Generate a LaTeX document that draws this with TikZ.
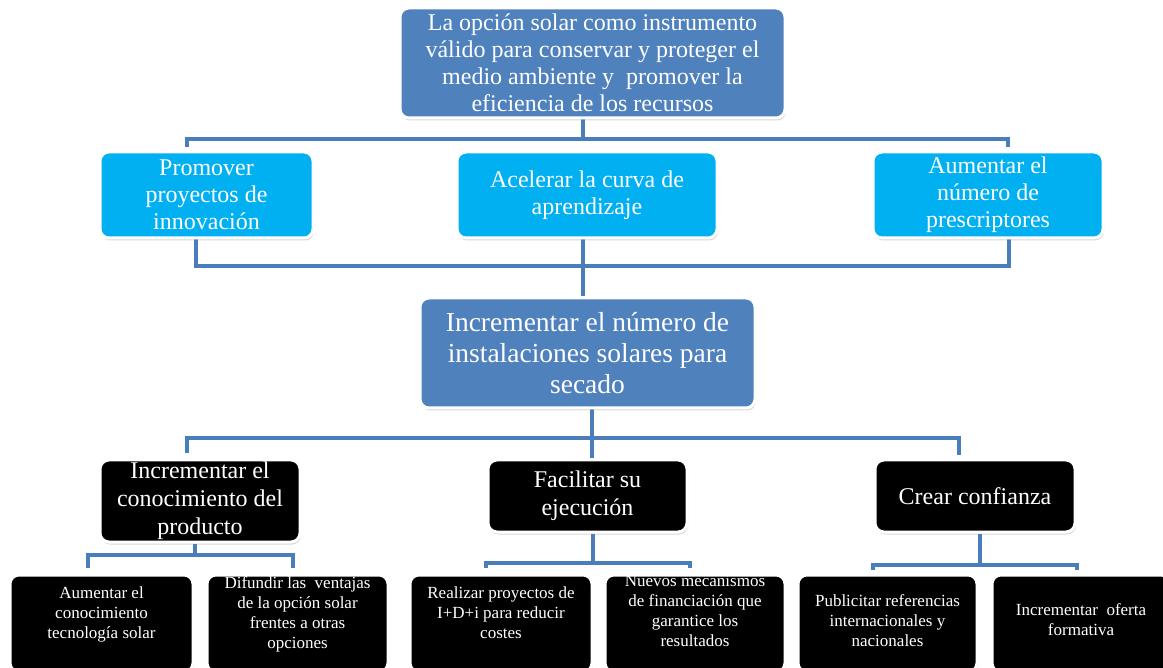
\documentclass[tikz,border=0pt]{standalone}
\usepackage{fontspec}
\setmainfont{Liberation Serif}
\usetikzlibrary{shadows}
\definecolor{steel}{HTML}{4F81BD}
\definecolor{cyanbox}{HTML}{00B0F0}
\definecolor{connblue}{HTML}{4A7EBB}
\pgfdeclarelayer{bg}
\pgfsetlayers{bg,main}
\newcommand\leaftext[2]{\raisebox{#1}[0pt][0pt]{\begin{tabular}{@{}c@{}}#2\end{tabular}}}
\begin{document}
\begin{tikzpicture}[x=1pt,y=-1pt,
  box/.style={rounded corners=9pt, draw=white, line width=3pt, text=white,
    align=center, inner sep=0pt,
    drop shadow={shadow xshift=1pt,shadow yshift=-2.5pt,opacity=0.3}},
  bluebox/.style={box, fill=steel, font=\fontsize{24}{27}\selectfont},
  midbox/.style={box, fill=steel, font=\fontsize{27.5}{31}\selectfont},
  cyanbx/.style={box, fill=cyanbox, font=\fontsize{24}{27}\selectfont, minimum height=86pt},
  blackbox/.style={box, fill=black, font=\fontsize{24}{28}\selectfont},
  leaf/.style={box, fill=black, font=\fontsize{17}{20}\selectfont, minimum height=97pt},
  conn/.style={draw=connblue, line width=4pt}]
\useasboundingbox (0,0) rectangle (1163,668);
\begin{pgfonlayer}{bg}
\fill[white] (0,0) rectangle (1163,668);
\end{pgfonlayer}

% nodes
\node[bluebox, minimum width=385pt, minimum height=110pt] (top) at (592.5,63)
  {La opción solar como instrumento\\válido para conservar y proteger el\\medio ambiente y~ promover la\\eficiencia de los recursos};

\node[cyanbx, minimum width=213pt] (c1) at (206.5,195) {Promover\\proyectos de\\innovación};
\node[cyanbx, minimum width=260pt] (c2) at (587,195) {Acelerar la curva de\\aprendizaje};
\node[cyanbx, minimum width=230pt] (c3) at (988,195) {Aumentar el\\número de\\prescriptores};

\node[midbox, minimum width=335pt, minimum height=110pt] (mid) at (587.5,353)
  {Incrementar el número de\\instalaciones solares para\\secado};

\node[blackbox, minimum width=200pt, minimum height=82pt] (b1) at (200,501) {Incrementar el\\conocimiento del\\producto};
\node[blackbox, minimum width=199pt, minimum height=72pt] (b2) at (587.5,496) {Facilitar su\\ejecución};
\node[blackbox, minimum width=200pt, minimum height=72pt] (b3) at (975,496) {Crear confianza};

\node[leaf, minimum width=183pt] (l1) at (101.5,623.5) {\leaftext{5pt}{Aumentar el\\conocimiento\\tecnología solar}};
\node[leaf, minimum width=181pt] (l2) at (297.5,623.5) {\leaftext{4.5pt}{Difundir las~ ventajas\\de la opción solar\\frentes a otras\\opciones}};
\node[leaf, minimum width=182pt] (l3) at (501,623.5) {\leaftext{5pt}{Realizar proyectos de\\I+D+i para reducir\\costes}};
\node[leaf, minimum width=180pt] (l4) at (695,623.5) {\leaftext{6.5pt}{Nuevos mecanismos\\de financiación que\\garantice los\\resultados}};
\node[leaf, minimum width=179pt] (l5) at (887.5,623.5) {\leaftext{-3pt}{Publicitar referencias\\internacionales y\\nacionales}};
\node[leaf, minimum width=178pt] (l6) at (1081,623.5) {\leaftext{-2.5pt}{Incrementar~ oferta\\formativa}};

% connectors
\begin{pgfonlayer}{bg}
\coordinate (a1) at (187,147);
\coordinate (a2) at (187,139);
\coordinate (a3) at (1008,139);
\coordinate (a4) at (1008,147);
\coordinate (am) at (583,139);
\draw[conn] (a1) -- (a2) -- (a3) -- (a4);
\draw[conn] (top.south -| am) -- (am);

\coordinate (bL) at (196,266);
\coordinate (bR) at (1009,266);
\coordinate (bM) at (583,266);
\draw[conn] (c1.south -| bL) -- (bL) -- (bR) -- (c3.south -| bR);
\draw[conn] (c2.south -| bM) -- (mid.north -| bM);

\coordinate (cL1) at (187,453);
\coordinate (cL) at (187,438);
\coordinate (cR) at (959,438);
\coordinate (cR1) at (959,455);
\coordinate (cM) at (592,438);
\draw[conn] (cL1) -- (cL) -- (cR) -- (cR1);
\draw[conn] (mid.south -| cM) -- (b2.north -| cM);

\coordinate (d0) at (195,555);
\coordinate (d1) at (88,568);
\coordinate (d2) at (293,568);
\draw[conn] (b1.south -| d0) -- (d0);
\draw[conn] (d1) |- (d0) -| (d2);

\coordinate (e0) at (593,563);
\coordinate (e1) at (486,568);
\coordinate (e2) at (690,568);
\draw[conn] (b2.south -| e0) -- (e0);
\draw[conn] (e1) |- (e0) -| (e2);

\coordinate (f0) at (980,565);
\coordinate (f1) at (873,570);
\coordinate (f2) at (1077,570);
\draw[conn] (b3.south -| f0) -- (f0);
\draw[conn] (f1) |- (f0) -| (f2);
\end{pgfonlayer}
\end{tikzpicture}
\end{document}
